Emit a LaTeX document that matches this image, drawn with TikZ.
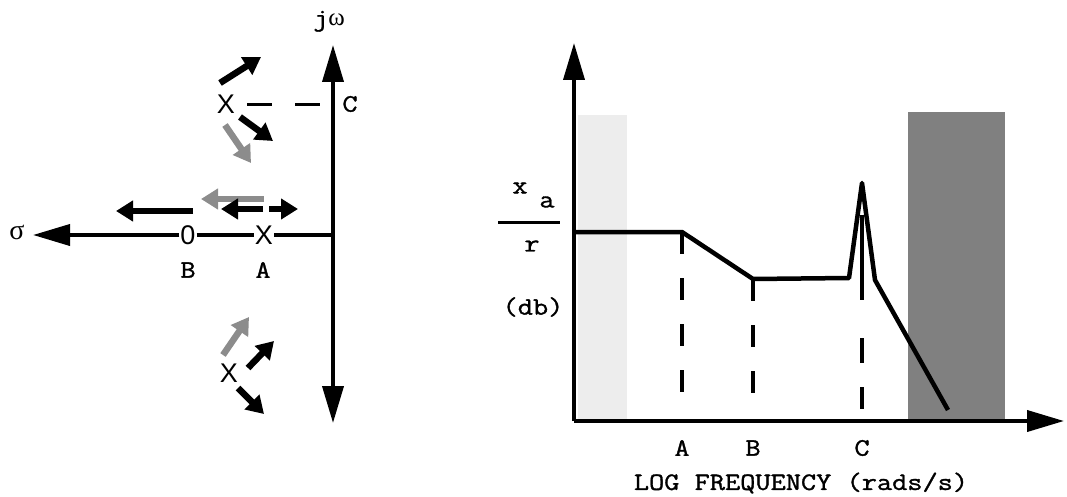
\documentclass[tikz,border=0pt]{standalone}
\usepackage{fontspec}
\newfontfamily\cour[FakeBold=1.3, FakeStretch=1.18]{Latin Modern Mono}
\newfontfamily\sansX{Liberation Sans}
\newfontfamily\greek{Liberation Serif}
\usetikzlibrary{arrows.meta}
\begin{document}
\begin{tikzpicture}[x=1pt,y=-1pt,
  lbl/.style={font=\cour\fontsize{25}{26}\selectfont, inner sep=0pt},
  glbl/.style={font=\greek\fontsize{28}{30}\selectfont, inner sep=0pt},
  xmark/.style={font=\sansX\fontsize{27}{28}\selectfont, inner sep=1pt},
  axisline/.style={line width=3.8pt},
  bigtip/.style={line width=3.8pt, -{Triangle[length=37pt,width=21pt]}},
  fatarrow/.style={line width=6.5pt, -{Triangle[length=17pt,width=20pt]}},
  fatblack/.style={fatarrow, black},
  fatgray/.style={fatarrow, black!45},
  curveline/.style={line width=4.5pt, line join=round},
  dropline/.style={line width=3.5pt, dash pattern=on 22pt off 24pt},
]
\useasboundingbox (0,0) rectangle (1067,497);

% ---------------- left: s-plane ----------------
\coordinate (vtop) at (333,45);
\coordinate (vbot) at (333,423);
\coordinate (orig) at (333,235);
\coordinate (htip) at (33,235);
\draw[axisline, {Triangle[length=37pt,width=21pt]}-{Triangle[length=37pt,width=21pt]}] (vtop) -- (vbot);

\node[xmark] (zero) at (188,235) {0};
\node[xmark] (xa) at (264,235) {X};
\draw[bigtip] (zero) -- (htip);
\draw[axisline] (zero) -- (xa);
\draw[axisline] (xa) -- (orig);

\node[glbl] (sig) at (17,232) {σ};
\node[lbl, anchor=base] (jw) at (329,26) {j{\greek ω}};
\node[lbl] (lB) at (188,270) {B};
\node[lbl] (lA) at (263,270) {A};

% upper pole
\node[xmark] (xu) at (226,104) {X};
\node[lbl] (lC) at (350,104) {C};
\coordinate (cd0) at (247,105);
\coordinate (cd1) at (320,105);
\draw[line width=3pt, dash pattern=on 25pt off 23pt] (cd0) -- (cd1);

\coordinate (u1a) at (220,83);  \coordinate (u1b) at (261,57);
\coordinate (u2a) at (240,117); \coordinate (u2b) at (273,141);
\coordinate (u3a) at (225,125); \coordinate (u3b) at (251,163);
\draw[fatblack] (u1a) -- (u1b);
\draw[fatblack] (u2a) -- (u2b);
\draw[fatgray]  (u3a) -- (u3b);

% arrows along the real axis
\coordinate (h1a) at (193,211); \coordinate (h1b) at (116,211);
\coordinate (h2a) at (264,199); \coordinate (h2b) at (201,199);
\coordinate (h3a) at (263,209); \coordinate (h3b) at (221,209);
\coordinate (h4a) at (269,209); \coordinate (h4b) at (298,209);
\draw[fatblack] (h1a) -- (h1b);
\draw[fatgray]  (h2a) -- (h2b);
\draw[fatblack] (h3a) -- (h3b);
\draw[fatblack] (h4a) -- (h4b);

% lower pole
\node[xmark] (xl) at (229,373) {X};
\coordinate (l1a) at (223,355); \coordinate (l1b) at (249,317);
\coordinate (l2a) at (248,368); \coordinate (l2b) at (274,341);
\coordinate (l3a) at (238,388); \coordinate (l3b) at (264,414);
\draw[fatgray]  (l1a) -- (l1b);
\draw[fatblack] (l2a) -- (l2b);
\draw[fatblack] (l3a) -- (l3b);

% ---------------- right: frequency response ----------------
\fill[black!7] (578,115) rectangle (627,419);
\fill[black!50] (908,112) rectangle (1005,419);

\coordinate (ro) at (574,421);
\coordinate (ytip) at (574,43);
\coordinate (xtip) at (1064,421);
\draw[bigtip] (ro) -- (ytip);
\draw[bigtip] (ro) -- (xtip);

\coordinate (p0) at (576,232);
\coordinate (pa) at (682,232);
\coordinate (pb) at (753,279);
\coordinate (pc1) at (849,278);
\coordinate (pk) at (862,183);
\coordinate (pc2) at (875,280);
\coordinate (pe) at (948,410);
\draw[curveline] (p0) -- (pa) -- (pb) -- (pc1) -- (pk) -- (pc2) -- (pe);

\coordinate (da) at (682,400);
\coordinate (db) at (753,400);
\coordinate (dc0) at (862,215);
\coordinate (dc) at (862,410);
\draw[dropline] (pa) -- (da);
\draw[dropline] (pb) -- (db);
\draw[line width=3.5pt, dash pattern=on 85pt off 38pt on 25pt off 24pt on 22pt off 30pt] (dc0) -- (dc);

\node[lbl] (fA) at (682,448) {A};
\node[lbl] (fB) at (753,448) {B};
\node[lbl] (fC) at (862,448) {C};
\node[lbl] (flab) at (801,483) {LOG FREQUENCY (rads/s)};

\node[lbl] (yx) at (520,188) {x};
\node[lbl] (ya) at (547,202) {a};
\coordinate (fr0) at (498,222);
\coordinate (fr1) at (560,222);
\draw[line width=3pt] (fr0) -- (fr1);
\node[lbl] (yr) at (532,246) {r};
\node[lbl] (ydb) at (533,307) {(db)};
\end{tikzpicture}
\end{document}
